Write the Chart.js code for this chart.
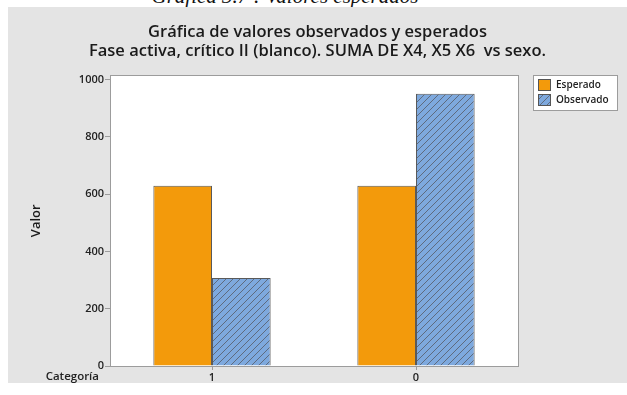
<!DOCTYPE html>
<html>
<head>
<meta charset="utf-8">
<script src="https://cdn.jsdelivr.net/npm/chart.js@4"></script>
<style>
  html, body { margin: 0; padding: 0; background: #fff; }
  body { width: 627px; height: 395px; position: relative; overflow: hidden; }
  #caption {
    position: absolute; left: 0; top: -16px; width: 570px; text-align: center;
    font: italic 21px "Liberation Serif", "DejaVu Serif", serif; color: #111;
  }
  #panel {
    position: absolute; left: 8px; top: 7px; width: 619px; height: 376px;
    background: #e4e4e4;
  }
</style>
</head>
<body>
<div id="caption">Gráfica 3.7 : Valores esperados</div>
<div id="panel"><canvas id="aChart" width="619" height="376"></canvas></div>
<script>
let categories = ["1", "0"];
let esperado = [629, 629];
let observado = [307, 951];
let seriesNames = ["Esperado", "Observado"];
let yTicks = [0, 200, 400, 600, 800, 1000];

let fontFamily = "'Open Sans', 'Noto Sans', sans-serif";
let frameColor = "#9c9c9c";

// blue fill with "/" hatching
function hatch() {
  let s = 7;
  let c = document.createElement("canvas");
  c.width = s;
  c.height = s;
  let g = c.getContext("2d");
  g.fillStyle = "#7ea9de";
  g.fillRect(0, 0, s, s);
  g.strokeStyle = "#5a6474";
  g.lineWidth = 0.9;
  g.beginPath();
  g.moveTo(-1, s + 1); g.lineTo(s + 1, -1);
  g.moveTo(-s - 1, s + 1); g.lineTo(1, -1);
  g.moveTo(s - 1, s + 1); g.lineTo(2 * s + 1, -1);
  g.stroke();
  return g.createPattern(c, "repeat");
}
let hatchFill = hatch();

// white plot area
let plotBg = {
  id: "plotBg",
  beforeDraw(chart) {
    let a = chart.chartArea;
    chart.ctx.save();
    chart.ctx.fillStyle = "#fff";
    chart.ctx.fillRect(a.left, a.top, a.right - a.left, a.bottom - a.top);
    chart.ctx.restore();
  }
};

// legend box and the "Categoría" label
let extras = {
  id: "extras",
  afterDraw(chart) {
    let ctx = chart.ctx;
    let a = chart.chartArea;
    ctx.save();
    ctx.fillStyle = "#222";
    ctx.font = "600 11.5px " + fontFamily;
    ctx.textAlign = "right";
    ctx.textBaseline = "middle";
    ctx.fillText("Categoría", a.left - 11, a.bottom + 11);

    let x = 525, y = 68, w = 84, h = 35;
    ctx.fillStyle = "#fff";
    ctx.fillRect(x, y, w, h);
    ctx.strokeStyle = frameColor;
    ctx.lineWidth = 1;
    ctx.strokeRect(x + 0.5, y + 0.5, w, h);
    ctx.font = "600 10px " + fontFamily;
    ctx.textAlign = "left";
    chart.data.datasets.forEach((ds, i) => {
      let ty = y + 10 + i * 15;
      ctx.fillStyle = ds.backgroundColor;
      ctx.fillRect(x + 5, ty - 6, 13, 12);
      ctx.strokeStyle = "#555";
      ctx.strokeRect(x + 5.5, ty - 5.5, 12, 11);
      ctx.fillStyle = "#222";
      ctx.fillText(ds.label, x + 23, ty);
    });
    ctx.restore();
  }
};

let tickFont = { family: fontFamily, size: 11, weight: "600" };

let aChart = new Chart(document.getElementById("aChart"), {
  type: "bar",
  data: {
    labels: categories,
    datasets: [
      {
        label: seriesNames[0],
        data: esperado,
        backgroundColor: "#f39a0b",
        borderColor: "#5a5a5a",
        borderWidth: 1,
      },
      {
        label: seriesNames[1],
        data: observado,
        backgroundColor: hatchFill,
        borderColor: "#5a5a5a",
        borderWidth: 1,
      },
    ],
  },
  options: {
    responsive: false,
    animation: false,
    events: [],
    categoryPercentage: 0.575,
    barPercentage: 1,
    layout: { padding: 0 },
    plugins: {
      legend: { display: false },
      tooltip: { enabled: false },
      title: {
        display: true,
        text: [
          "Gráfica de valores observados y esperados",
          "Fase activa, crítico II (blanco). SUMA DE X4, X5 X6  vs sexo.",
        ],
        color: "#1a1a1a",
        font: { family: fontFamily, size: 16.5, weight: "600", lineHeight: 1.2 },
        padding: { top: 15, bottom: 14 },
      },
    },
    scales: {
      x: {
        grid: {
          display: true,
          drawOnChartArea: false,
          drawTicks: true,
          tickLength: 4,
          color: frameColor,
          offset: false,
        },
        border: { color: frameColor, width: 1 },
        ticks: { color: "#222", font: tickFont, padding: 1 },
        afterFit(scale) { scale.height = 17; },
      },
      // top edge of the frame
      xTop: {
        position: "top",
        grid: { display: false },
        border: { color: frameColor, width: 1 },
        ticks: { display: false },
        afterFit(scale) { scale.height = 0; },
      },
      y: {
        min: 0,
        max: 1014,
        afterBuildTicks(scale) { scale.ticks = yTicks.map(v => ({ value: v })); },
        grid: {
          display: true,
          drawOnChartArea: false,
          drawTicks: true,
          tickLength: 5,
          color: frameColor,
        },
        border: { color: frameColor, width: 1 },
        ticks: {
          color: "#222",
          font: tickFont,
          padding: 1,
          callback: v => String(v),
        },
        title: {
          display: true,
          text: "Valor",
          color: "#1a1a1a",
          font: { family: fontFamily, size: 13, weight: "600" },
          padding: { top: 20, bottom: 0 },
        },
        afterFit(scale) { scale.width = 102; },
      },
      // right edge of the frame, leaves room for the legend
      yRight: {
        position: "right",
        grid: { display: false },
        border: { color: frameColor, width: 1 },
        ticks: { display: false },
        afterFit(scale) { scale.width = 109; },
      },
    },
  },
  plugins: [plotBg, extras],
});
</script>
</body>
</html>
